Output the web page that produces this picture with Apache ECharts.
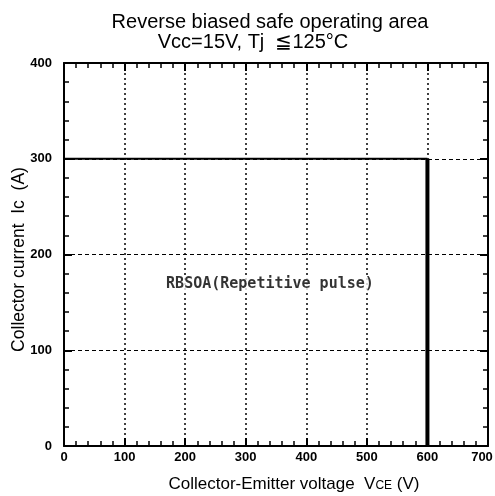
<!DOCTYPE html>
<html><head><meta charset="utf-8">
<script src="https://cdn.jsdelivr.net/npm/echarts@6/dist/echarts.min.js"></script>
<style>html,body{margin:0;padding:0;background:#fff}#c{width:495px;height:496px}</style>
</head><body><div id="c"></div>
<script>
const titleLines = ["Reverse biased safe operating area", "Vcc=15V, Tj  \u2266125\u00b0C"];
const xTicks = [0, 100, 200, 300, 400, 500, 600, 700];
const yTicks = [0, 100, 200, 300, 400];
const currentEdge = [[0, 300], [600, 300]];
const voltageEdge = [[600, 300], [600, 0]];
const regionLabel = [[340, 169, "RBSOA(Repetitive pulse)"]];

const chart = echarts.init(document.getElementById('c'), null, {renderer: 'canvas'});
const FONT = 'Liberation Sans, Arial';
const xMax = xTicks[xTicks.length - 1];
const baseAxis = {
  axisLine: {show: true, onZero: false, lineStyle: {color: '#000', width: 2}},
  axisTick: {show: true, inside: true, length: 8, lineStyle: {color: '#000', width: 2}},
  minorTick: {show: true, splitNumber: 5, length: 5, lineStyle: {color: '#000', width: 1.5}},
  axisLabel: {show: true, color: '#000', fontFamily: FONT, fontWeight: 'bold', fontSize: 13},
};
chart.setOption({
  animation: false,
  backgroundColor: '#fff',
  title: [
    {text: titleLines[0], left: 265, top: 7, textAlign: 'center', textStyle: {fontFamily: FONT, fontWeight: 'normal', fontSize: 20, color: '#000'}},
    {text: titleLines[1], left: 248, top: 27, textAlign: 'center', textStyle: {fontFamily: FONT, fontWeight: 'normal', fontSize: 20, color: '#000'}}
  ],
  grid: {left: 64, right: 7, top: 63, bottom: 50, containLabel: false, outerBoundsMode: 'none'},
  xAxis: [
    Object.assign({}, baseAxis, {
      type: 'value', min: xTicks[0], max: xMax, interval: 100, position: 'bottom',
      axisLabel: Object.assign({}, baseAxis.axisLabel, {margin: 5,
        formatter: v => v === xMax ? '{r|' + v + '}' : String(v),
        rich: {r: {fontFamily: FONT, fontWeight: 'bold', fontSize: 13, color: '#000', padding: [0, 12, 0, 0]}}}),
      splitLine: {show: true, lineStyle: {color: '#000', width: 1.5, type: [2, 3]}},
      name: 'Collector-Emitter voltage  V{s|CE} (V)', nameLocation: 'middle', nameGap: 30,
      nameTextStyle: {fontFamily: FONT, fontSize: 17, color: '#000', padding: [0, 0, 0, 36],
        rich: {s: {fontSize: 12, fontFamily: FONT, color: '#000', padding: [3, 0, 0, 0]}}}
    }),
    Object.assign({}, baseAxis, {
      type: 'value', min: xTicks[0], max: xMax, interval: 100, position: 'top',
      axisLabel: {show: false}, splitLine: {show: false}
    })
  ],
  yAxis: [
    Object.assign({}, baseAxis, {
      type: 'value', min: yTicks[0], max: yTicks[yTicks.length - 1], interval: 100, position: 'left',
      axisLabel: Object.assign({}, baseAxis.axisLabel, {margin: 12}),
      splitLine: {show: true, lineStyle: {color: '#000', width: 1, type: [4, 3]}},
      name: 'Collector current  Ic  (A)', nameLocation: 'middle', nameGap: 36, nameRotate: 90,
      nameMoveOverlap: false,
      nameTextStyle: {fontFamily: FONT, fontSize: 17.5, color: '#000', padding: [0, 10, 0, 0]}
    }),
    Object.assign({}, baseAxis, {
      type: 'value', min: yTicks[0], max: yTicks[yTicks.length - 1], interval: 100, position: 'right',
      axisLabel: {show: false}, splitLine: {show: false}
    })
  ],
  series: [
    {type: 'line', data: currentEdge, symbol: 'none', lineStyle: {color: '#000', width: 2}, z: 5},
    {type: 'line', data: voltageEdge, symbol: 'none', lineStyle: {color: '#000', width: 4}, z: 5},
    {type: 'scatter', data: regionLabel, symbolSize: 0, z: 6,
     label: {show: true, position: 'inside', formatter: p => p.data[2], color: '#000',
             fontFamily: 'DejaVu Sans Mono', fontWeight: 'bold', fontSize: 15, backgroundColor: '#fff', padding: [1, 0]}}
  ]
});
</script></body></html>
